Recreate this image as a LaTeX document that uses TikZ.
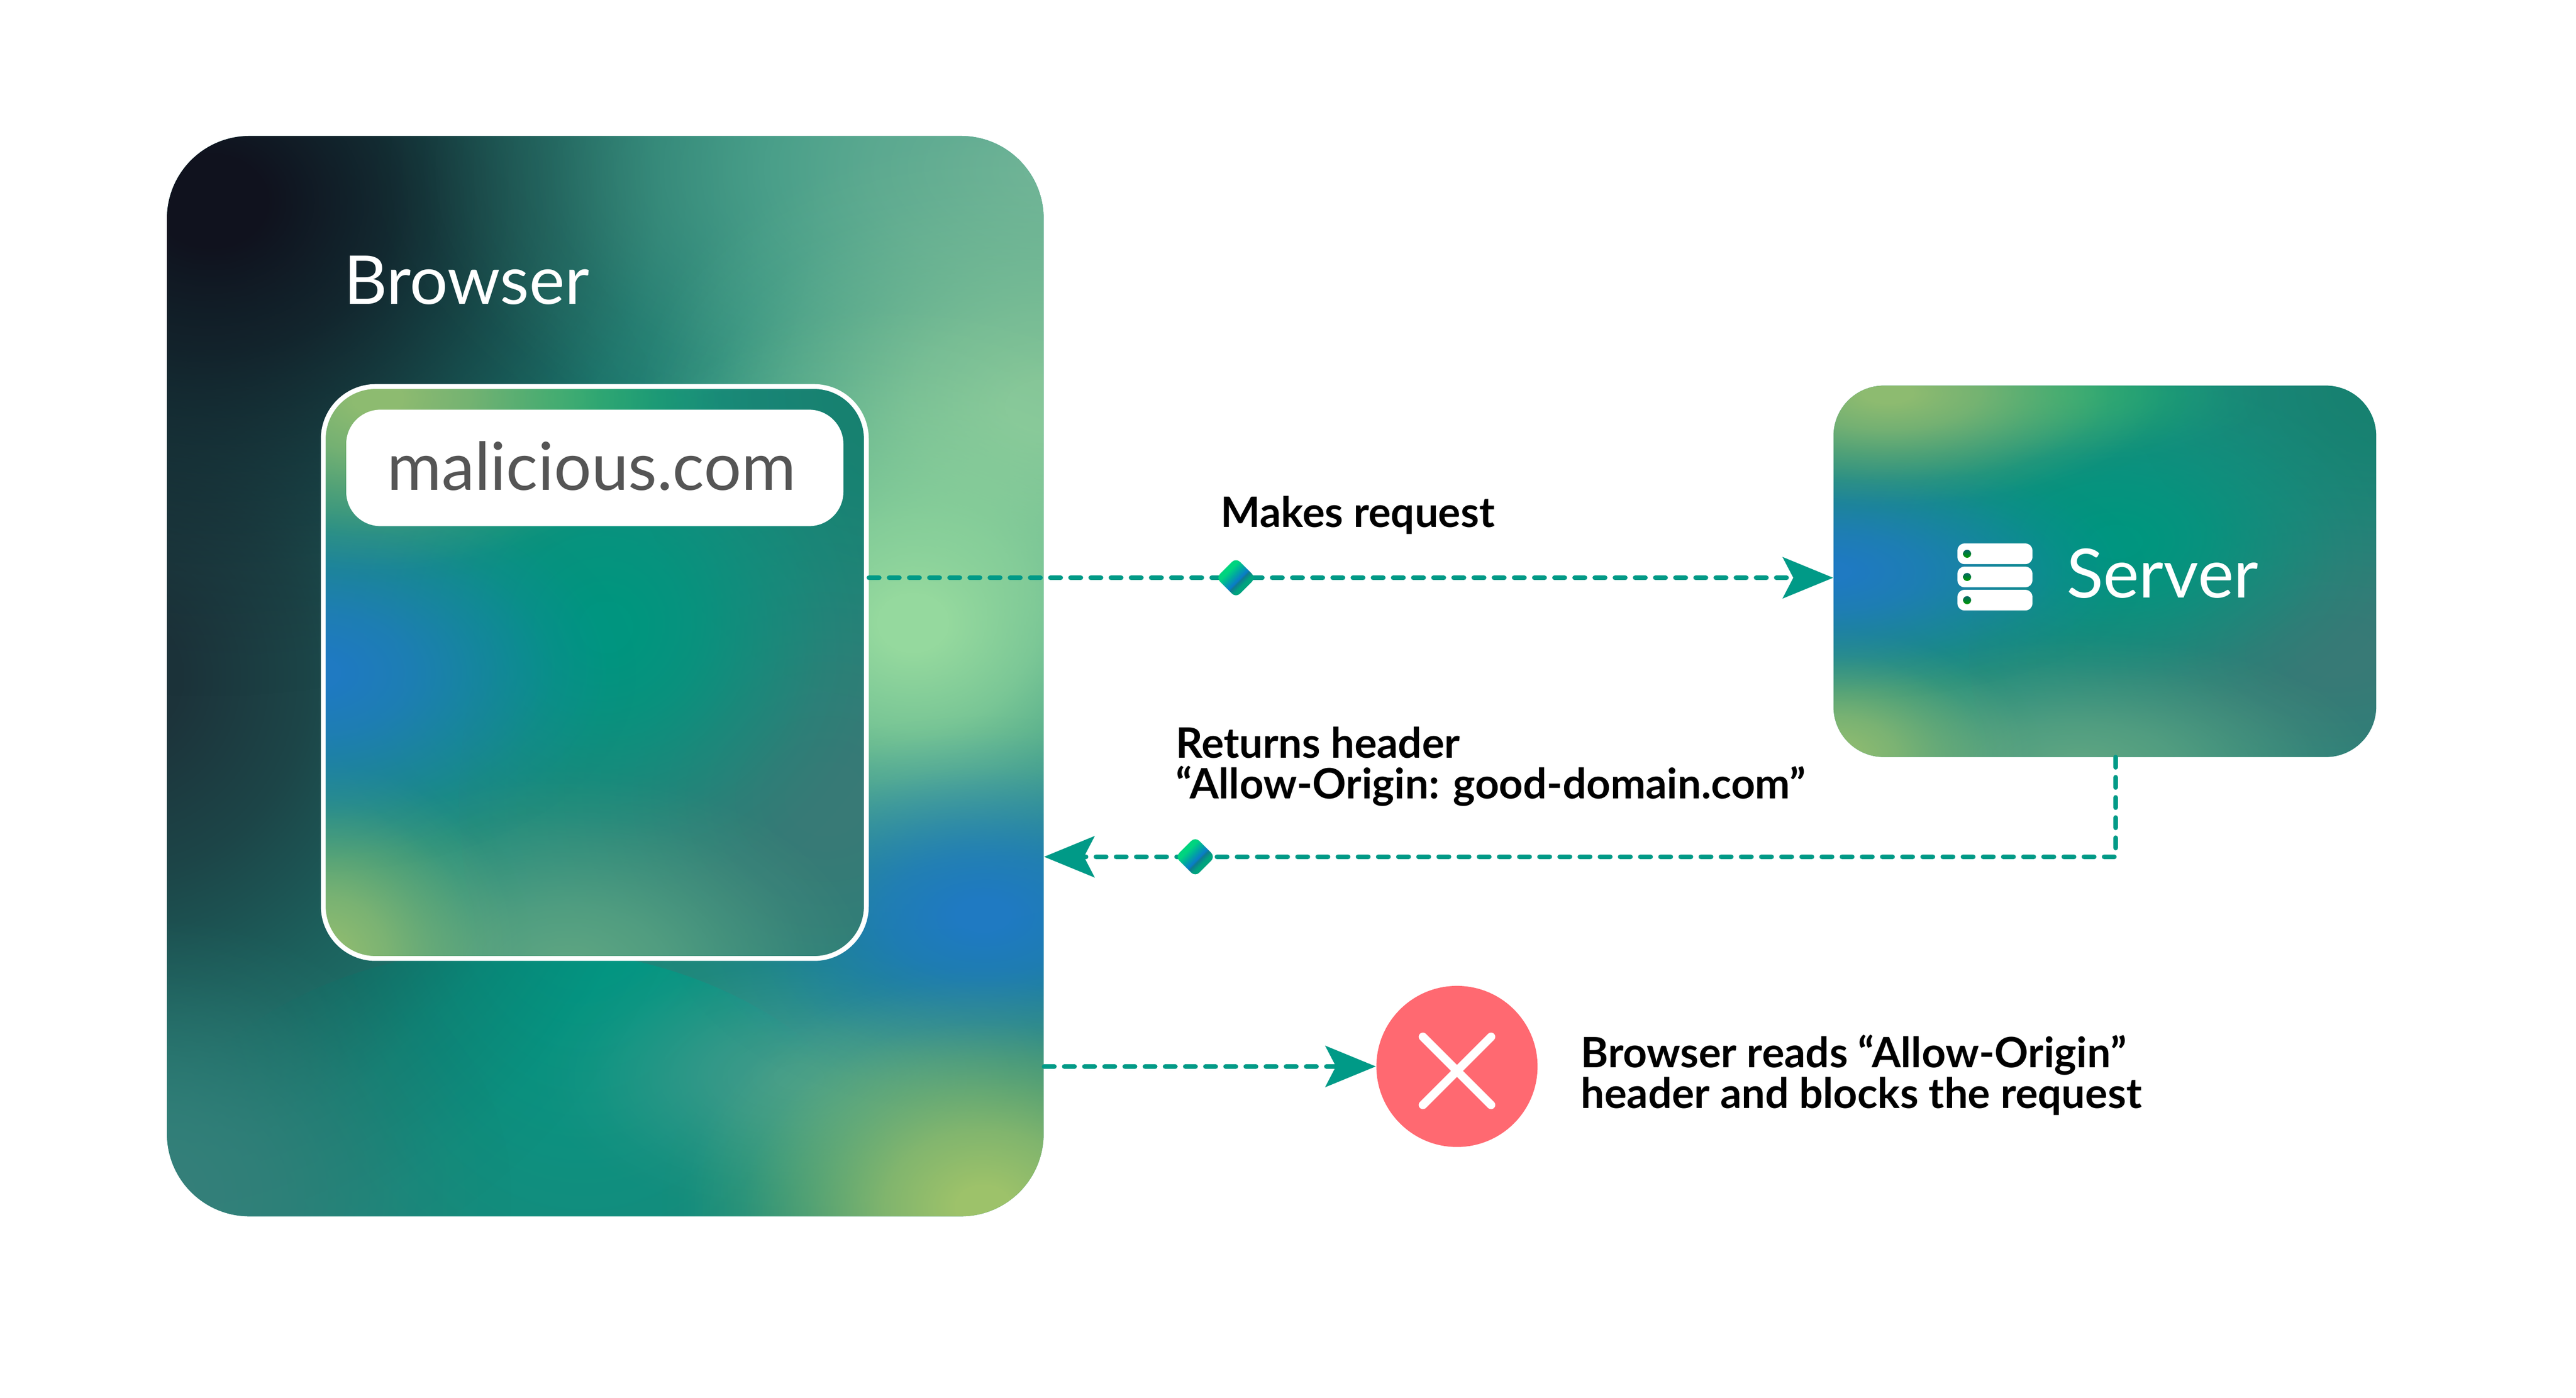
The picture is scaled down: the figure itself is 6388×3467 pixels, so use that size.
\documentclass[tikz,border=0pt]{standalone}
\usepackage{fontspec}
\setmainfont{Lato}
\usetikzlibrary{shapes.geometric, arrows.meta, fadings}

\definecolor{flowgreen}{HTML}{009A87}
\definecolor{deniedred}{HTML}{FF6971}
\definecolor{urlgrey}{HTML}{555555}
\definecolor{browserbase}{HTML}{1C877A}
\definecolor{cardbase}{HTML}{1C8C7E}

\definecolor{gemA}{HTML}{00D47F}
\definecolor{gemB}{HTML}{00A8A0}
\definecolor{gemC}{HTML}{0A7CC8}
\definecolor{gemD}{HTML}{0E7A90}
\definecolor{gemE}{HTML}{00A37F}
\pgfdeclarehorizontalshading{gem}{100bp}{color(0bp)=(gemA); color(37.5bp)=(gemA); color(46bp)=(gemB); color(54bp)=(gemC); color(56.5bp)=(gemD); color(62.5bp)=(gemE); color(100bp)=(gemE)}

\pgfdeclareradialshading{blobshade}{\pgfpointorigin}{color(0bp)=(pgftransparent!0); color(2bp)=(pgftransparent!0); color(7bp)=(pgftransparent!22); color(12bp)=(pgftransparent!55); color(17bp)=(pgftransparent!85); color(21bp)=(pgftransparent!98); color(23bp)=(pgftransparent!100); color(50bp)=(pgftransparent!100)}
\pgfdeclarefading{blobfade}{\pgfuseshading{blobshade}}

% one soft patch of a mesh: x, y, reach in x, reach in y as fractions of the box, colour
\newcommand{\meshblob}[5]{\definecolor{blobcol}{HTML}{#5}\fill[blobcol, path fading=blobfade] ([shift={(#1*\meshw,#2*\meshh)}]path picture bounding box.north west) ellipse ({#3*\meshw} and {#4*\meshh});}

\newcommand{\browsermesh}{%
  \meshblob{0.4}{1.02}{0.45}{0.27}{009A85}
  \meshblob{-0.05}{0.5}{0.75}{0.65}{1C333A}
  \meshblob{-0.02}{0.98}{0.45}{0.3}{35807A}
  \meshblob{0.05}{0.06}{0.75}{0.5}{10121E}
  \meshblob{1.05}{0.03}{0.9}{0.38}{6CB296}
  \meshblob{1.0}{0.25}{0.55}{0.3}{84C498}
  \meshblob{0.85}{0.45}{0.5}{0.34}{95D99E}
  \meshblob{0.72}{0.87}{0.35}{0.15}{3E9B8B}
  \meshblob{0.93}{0.72}{0.4}{0.2}{1F7AC2}
  \meshblob{0.93}{0.99}{0.4}{0.25}{9DC26A}
}
\newcommand{\cardmesh}{%
  \meshblob{1.05}{0.72}{0.8}{0.8}{387A76}
  \meshblob{1.05}{0.0}{0.55}{0.6}{17806F}
  \meshblob{0.52}{0.42}{0.6}{0.55}{00967F}
  \meshblob{0.45}{1.02}{0.65}{0.4}{5CA482}
  \meshblob{0.0}{1.0}{0.42}{0.4}{90BC70}
  \meshblob{-0.02}{0.5}{0.65}{0.38}{1F7AC2}
  \meshblob{0.45}{0.02}{0.4}{0.22}{1FA573}
  \meshblob{0.1}{0.02}{0.6}{0.35}{8DBB70}
}

\tikzset{
  browserbox/.style={rectangle, rounded corners=1.025cm, inner sep=0pt, fill=browserbase, minimum width=10.88cm, minimum height=13.41cm,
    path picture={\def\meshw{2176}\def\meshh{2682}\browsermesh}},
  windowbox/.style={rectangle, rounded corners=0.65cm, inner sep=0pt, fill=cardbase, draw=white, line width=1.7pt, minimum width=6.74cm, minimum height=7.1cm,
    path picture={\def\meshw{1348}\def\meshh{1420}\cardmesh}},
  serverbox/.style={rectangle, rounded corners=0.625cm, inner sep=0pt, fill=cardbase, minimum width=6.735cm, minimum height=4.61cm,
    path picture={\def\meshw{1347}\def\meshh{922}\cardmesh}},
  urlbar/.style={rectangle, rounded corners=0.425cm, fill=white, inner sep=0pt, minimum width=6.17cm, minimum height=1.445cm},
  gemnode/.style={diamond, rounded corners=2pt, inner sep=0pt, minimum width=0.5cm, minimum height=0.5cm, shading=gem, shading angle=-45},
  flow/.style={draw=flowgreen, line width=1.7pt, line cap=round, dash pattern=on 3.56pt off 3.56pt, -{Stealth[length=17.8pt,width=14.5pt,inset=3.7pt]}},
  deniednode/.style={circle, fill=deniedred, inner sep=0pt, minimum size=2cm},
  crossline/.style={draw=white, line width=3pt, line cap=round},
  rack/.style={rectangle, rounded corners=2.4pt, fill=white, inner sep=0pt, minimum width=0.93cm, minimum height=0.255cm},
  rackdot/.style={circle, top color=teal!80!black, bottom color=green!60!black, inner sep=0pt, minimum size=0.1cm},
  title/.style={anchor=base west, inner sep=0pt, text=white, font=\fontsize{23.8}{23.8}\selectfont},
  note/.style={anchor=base west, inner sep=0pt, text=black, font=\bfseries\fontsize{14.8}{14.4}\selectfont, align=left}
}

\begin{document}
\begin{tikzpicture}[x=0.005cm, y=-0.005cm]
    \useasboundingbox (0,0) rectangle (6388,3467);

    \node (browser) [browserbox] at (1501,1677) {};
    \node (window) [windowbox] at (1475,1668) {};
    \node (bar) [urlbar] at (1475,1160.5) {};
    \node (server) [serverbox] at (5219.5,1417) {};
    \node (denied) [deniednode] at (3613,2645) {};

    \coordinate (reqfrom) at (2155,1433);
    \coordinate (reqto) at (4546,1433);
    \coordinate (replyfrom) at (5246,1878);
    \coordinate (replyto) at (2589,2125);

    \draw[flow] (reqfrom) -- (reqto);
    \draw[flow] (replyfrom) |- (replyto);
    \draw[flow] (browser.east |- denied.west) -- (denied.west);

    \node (gemreq) [gemnode] at (3065,1433) {};
    \node (gemreply) [gemnode] at (2964,2125) {};

    \draw[crossline] (3528.5,2571.5) -- (3697.5,2740.5);
    \draw[crossline] (3697.5,2571.5) -- (3528.5,2740.5);

    \foreach \row in {1373.5,1431,1488.5} {
        \node[rack] at (4947,\row) {};
        \node[rackdot] at (4878,\row) {};
    }

    \node (browsertitle) [title] at (851,754) {Browser};
    \node (servertitle) [title, font=\fontsize{24}{24}\selectfont] at (5123,1483) {Server};
    \node (url) [title, text=urlgrey, font=\fontsize{23.4}{23.4}\selectfont] at (959,1215) {malicious.com};
    \node (reqnote) [note] at (3026,1308) {Makes request};
    \node (replynote) [note] at (2915,1981) {Returns header\\“Allow-Origin: good-domain.com”};
    \node (blocknote) [note] at (3919,2749) {Browser reads “Allow-Origin”\\header and blocks the request};
\end{tikzpicture}
\end{document}
